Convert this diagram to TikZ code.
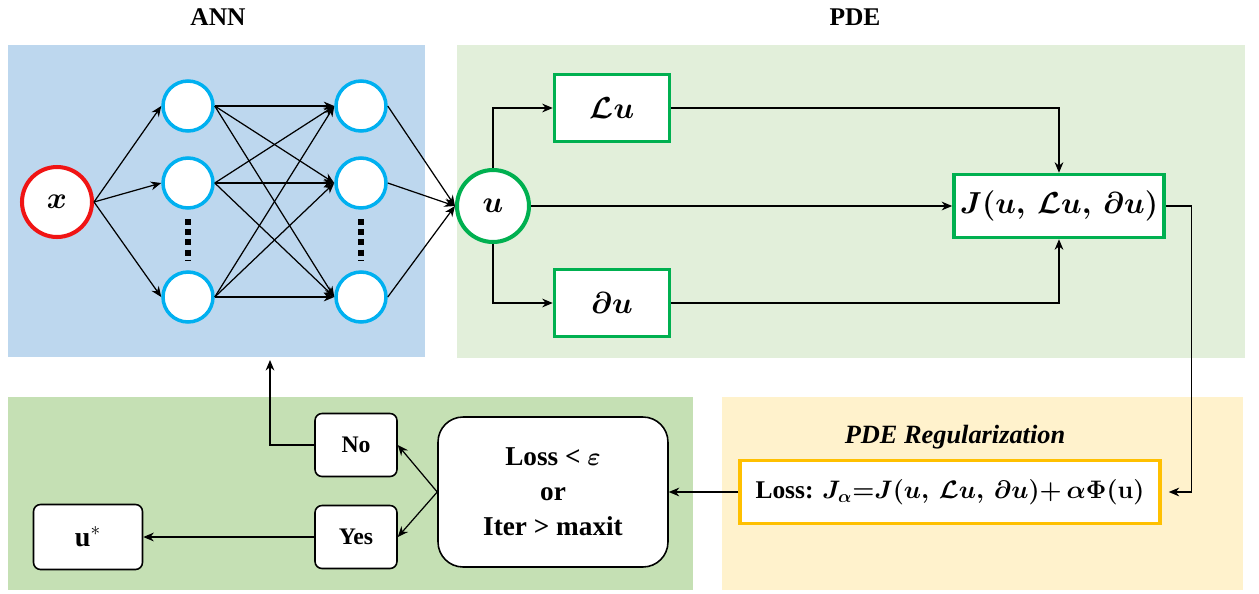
\documentclass[tikz,border=0pt]{standalone}
\usepackage{amsmath, amssymb}
\usepackage{fontspec}
\setmainfont{Liberation Serif}
\usepackage{xcolor}
\usepackage{tikz}
\usetikzlibrary{arrows.meta, positioning, calc}
\definecolor{annblue}{RGB}{189,215,238}
\definecolor{pdegreen}{RGB}{226,239,218}
\definecolor{loopgreen}{RGB}{197,224,180}
\definecolor{regyellow}{RGB}{255,242,204}
\definecolor{ringred}{RGB}{240,20,20}
\definecolor{ringblue}{RGB}{0,176,240}
\definecolor{boxgreen}{RGB}{0,176,80}
\definecolor{boxgold}{RGB}{255,192,0}

\begin{document}
\begin{tikzpicture}[x=0.02cm, y=-0.02cm, >={Stealth[length=6pt,width=5pt]}, font=\bfseries\boldmath]
  \tikzstyle{neuron} = [circle, draw=ringblue, line width=2pt, fill=white, minimum size=1cm, inner sep=0pt]
  \tikzstyle{inring} = [circle, draw=ringred, line width=2.3pt, fill=white, minimum size=1.4cm, inner sep=0pt, font=\fontsize{16}{18}\selectfont\bfseries\boldmath]
  \tikzstyle{outring} = [circle, draw=boxgreen, line width=2.3pt, fill=white, minimum size=1.44cm, inner sep=0pt, font=\fontsize{16}{18}\selectfont\bfseries\boldmath]
  \tikzstyle{opbox} = [rectangle, draw=boxgreen, line width=2pt, fill=white, minimum width=2.3cm, minimum height=1.34cm, font=\fontsize{16}{18}\selectfont\bfseries\boldmath]
  \tikzstyle{lossbox} = [rectangle, draw=boxgold, line width=2pt, fill=white, minimum width=8.4cm, minimum height=1.26cm, inner sep=2pt, font=\fontsize{14.5}{17}\selectfont\bfseries\boldmath]
  \tikzstyle{choice} = [rectangle, draw, line width=0.9pt, fill=white, rounded corners=4pt, minimum width=1.64cm, minimum height=1.26cm, font=\fontsize{13.5}{15}\selectfont\bfseries]
  \tikzstyle{title} = [font=\fontsize{14.5}{17}\selectfont\bfseries]
  \tikzstyle{link} = [->, line width=0.7pt]

  \useasboundingbox (0,0) rectangle (1259,593);

  % panels
  \fill[annblue] (8,45) rectangle (425,357);
  \fill[pdegreen] (457,45) rectangle (1245,358);
  \fill[loopgreen] (8,397) rectangle (693,590);
  \fill[regyellow] (722,397) rectangle (1243,590);

  \node [title] (anntitle) at (218,17) {ANN};
  \node [title] (pdetitle) at (855,17) {PDE};

  % network
  \node [inring] (x) at (57,202) {$x$};
  \node [neuron] (h1a) at (188,106) {};
  \node [neuron] (h1b) at (188,183) {};
  \node [neuron] (h1c) at (188,297) {};
  \node [neuron] (h2a) at (361,106) {};
  \node [neuron] (h2b) at (361,183) {};
  \node [neuron] (h2c) at (361,297) {};
  \draw[line width=3.5pt, dash pattern=on 3.4pt off 2.4pt] (188,219) -- (188,260);
  \draw[line width=3.5pt, dash pattern=on 3.4pt off 2.4pt] (361,219) -- (361,260);

  \node [outring] (u) at (493,206) {$u$};

  \foreach \h in {h1a,h1b,h1c}
    \draw[link] (x.east) -- (\h.west);
  \foreach \a in {h1a,h1b,h1c}
    \foreach \b in {h2a,h2b,h2c}
      \draw[link] (\a.east) -- (\b.west);
  \foreach \h in {h2a,h2b,h2c}
    \draw[link] (\h.east) -- (u.west);

  % PDE part
  \node [opbox] (Lu) at (612,108) {$\mathcal{L}u$};
  \node [opbox] (du) at (612,303) {$\partial u$};
  \node [opbox, minimum width=4.04cm, minimum height=1.26cm] (J) at (1059,206) {$J(u,\,\mathcal{L}u,\,\partial u)$};

  \draw[link] (u.north) |- (Lu.west);
  \draw[link] (u.south) |- (du.west);
  \draw[link] (u.east) -- (J.west);
  \draw[link] (Lu.east) -| (J.north);
  \draw[link] (du.east) -| (J.south);

  % regularization
  \node [title, font=\fontsize{15}{17}\selectfont\bfseries\itshape] (regtitle) at (955,437) {PDE Regularization};
  \node [lossbox] (loss) at (950,492) {Loss: $J_{\alpha}{=}J(u,\,\mathcal{L}u,\,\partial u){+}\,\alpha\Phi(\mathbf{u})$};
  \draw[link] (J.east) -- ++(26,0) |- ([xshift=4pt]loss.east);

  % stopping test
  \node [rectangle, draw, line width=0.9pt, fill=white, rounded corners=0.5cm, minimum width=4.6cm, minimum height=3cm, align=center, font=\fontsize{15.5}{20}\selectfont\bfseries\boldmath] (test) at (553,492) {Loss < $\varepsilon$\\or\\Iter > maxit};
  \draw[link] (loss.west) -- (test.east);

  \node [choice] (no) at (356,445) {No};
  \node [choice] (yes) at (356,537) {Yes};
  \node [choice, minimum width=2.18cm, minimum height=1.3cm, font=\fontsize{16}{18}\selectfont\bfseries] (ustar) at (88,537) {u$^{*}$};
  \coordinate (annbot) at (270,360);

  \draw[link] (test.west) -- (no.east);
  \draw[link] (test.west) -- (yes.east);
  \draw[link] (yes.west) -- (ustar.east);
  \draw[link] (no.west) -| (annbot);
\end{tikzpicture}
\end{document}
